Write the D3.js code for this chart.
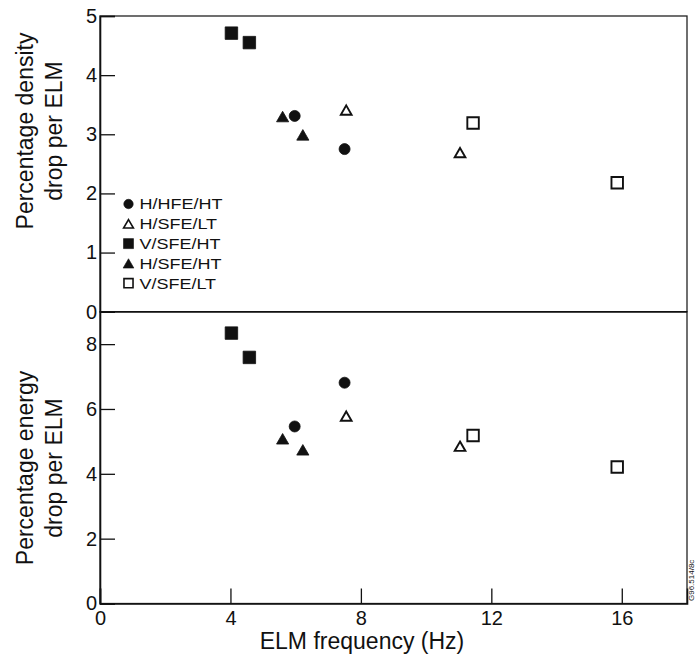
<!DOCTYPE html>
<html>
<head>
<meta charset="utf-8">
<script src="https://cdn.jsdelivr.net/npm/d3@7/dist/d3.min.js"></script>
<style>
  html, body { margin: 0; padding: 0; background: #fff; }
  svg { display: block; }
  text { font-family: "Liberation Sans", Arial, Helvetica, sans-serif; fill: #111; }
</style>
</head>
<body>
<svg id="chart" width="696" height="658"></svg>
<script>
// ---------------- DATA ----------------
const seriesNames = ["H/HFE/HT", "H/SFE/LT", "V/SFE/HT", "H/SFE/HT", "V/SFE/LT"];

// ELM frequency (Hz) per series
const freqHHFEHT = [5.97, 7.50];
const freqHSFELT = [7.55, 11.04];
const freqVSFEHT = [4.03, 4.58];
const freqHSFEHT = [5.60, 6.22];
const freqVSFELT = [11.44, 15.86];

// Percentage density drop per ELM
const densHHFEHT = [3.31, 2.75];
const densHSFELT = [3.41, 2.69];
const densVSFEHT = [4.71, 4.55];
const densHSFEHT = [3.30, 2.99];
const densVSFELT = [3.19, 2.18];

// Percentage energy drop per ELM
const enerHHFEHT = [5.46, 6.81];
const enerHSFELT = [5.78, 4.85];
const enerVSFEHT = [8.34, 7.59];
const enerHSFEHT = [5.08, 4.74];
const enerVSFELT = [5.18, 4.21];

const xTicks = [0, 4, 8, 12, 16];
const densityTicks = [0, 1, 2, 3, 4, 5];
const energyTicks = [0, 2, 4, 6, 8];

const xLabel = "ELM frequency (Hz)";
const densityTitle = ["Percentage density", "drop per ELM"];
const energyTitle = ["Percentage energy", "drop per ELM"];
const figureCode = "G96.514/8c";

// ---------------- BUILD ----------------
const freqs = [freqHHFEHT, freqHSFELT, freqVSFEHT, freqHSFEHT, freqVSFELT];
const dens = [densHHFEHT, densHSFELT, densVSFEHT, densHSFEHT, densVSFELT];
const eners = [enerHHFEHT, enerHSFELT, enerVSFEHT, enerHSFEHT, enerVSFELT];

// marker style per series (index aligned with seriesNames)
const markerStyle = [
  { type: d3.symbolCircle,   filled: true,  size: 95,  legSize: 70 },
  { type: d3.symbolTriangle, filled: false, size: 50,  legSize: 42 },
  { type: d3.symbolSquare,   filled: true,  size: 156, legSize: 100 },
  { type: d3.symbolTriangle, filled: true,  size: 64,  legSize: 50 },
  { type: d3.symbolSquare,   filled: false, size: 132, legSize: 82 }
];

const svg = d3.select("#chart");
const left = 100, right = 687;
const topY = 16, midY = 311.7, botY = 603.5;

const x = d3.scaleLinear().domain([0, 18]).range([left, right]);
const yD = d3.scaleLinear().domain([0, 5]).range([midY, topY]);
const yE = d3.scaleLinear().domain([0, 9]).range([botY, midY]);

// frames
function frame(y0, y1) {
  svg.append("rect")
    .attr("x", left).attr("y", y0)
    .attr("width", right - left).attr("height", y1 - y0)
    .attr("fill", "none").attr("stroke", "#222").attr("stroke-width", 1.3);
}
frame(topY, midY);
frame(midY, botY);

function styleAxis(g) {
  g.select(".domain").attr("stroke", "#111").attr("stroke-width", 1.6);
  g.selectAll(".tick line").attr("stroke", "#111").attr("stroke-width", 1.3);
  g.selectAll(".tick text").attr("font-size", 20)
    .attr("font-family", "Liberation Sans, Arial, sans-serif").attr("fill", "#111");
}

// y axes
svg.append("g").attr("transform", `translate(${left},0)`)
  .call(d3.axisLeft(yD).tickValues(densityTicks).tickFormat(d3.format("d"))
    .tickSize(-15).tickPadding(3))
  .call(styleAxis);

svg.append("g").attr("transform", `translate(${left},0)`)
  .call(d3.axisLeft(yE).tickValues(energyTicks).tickFormat(d3.format("d"))
    .tickSize(-15).tickPadding(3))
  .call(styleAxis);

// x axis
const xg = svg.append("g").attr("transform", `translate(0,${botY})`)
  .call(d3.axisBottom(x).tickValues(xTicks).tickFormat(d3.format("d"))
    .tickSize(-15).tickPadding(7))
  .call(styleAxis);
xg.select(".domain").attr("stroke-width", 1.6);

// shared boundary line
svg.append("line").attr("x1", left).attr("x2", right)
  .attr("y1", midY).attr("y2", midY)
  .attr("stroke", "#111").attr("stroke-width", 1.5);

// titles
function yTitle(lines, cy) {
  const t = svg.append("text")
    .attr("transform", `translate(0,${cy}) rotate(-90)`)
    .attr("text-anchor", "middle").attr("font-size", 23);
  t.append("tspan").attr("x", 0).attr("y", 33).text(lines[0]);
  t.append("tspan").attr("x", 0).attr("y", 62).text(lines[1]);
}
yTitle(densityTitle, 131);
yTitle(energyTitle, 468);

svg.append("text").attr("x", 362).attr("y", 649)
  .attr("text-anchor", "middle").attr("font-size", 23).text(xLabel);

svg.append("text")
  .attr("transform", `translate(694,601) rotate(-90)`)
  .attr("font-size", 8).attr("fill", "#333").text(figureCode);

// markers
function triOffset(st, size) {
  if (st.type !== d3.symbolTriangle) return 0;
  return Math.sqrt(size / (Math.sqrt(3) * 3)) / 2;
}
function drawMarks(ys, yScale) {
  seriesNames.forEach((name, i) => {
    const st = markerStyle[i];
    const pts = freqs[i].map((f, j) => ({ f, v: ys[i][j] }));
    const sym = d3.symbol().type(st.type).size(st.size);
    const off = triOffset(st, st.size);
    svg.append("g").selectAll("path").data(pts).join("path")
      .attr("d", sym)
      .attr("transform", d => `translate(${x(d.f)},${yScale(d.v) + off})`)
      .attr("fill", st.filled ? "#111" : "#fff")
      .attr("stroke", "#111")
      .attr("stroke-width", st.filled ? 0.8 : 1.9);
  });
}
drawMarks(dens, yD);
drawMarks(eners, yE);

// legend
const legY0 = 204, legStep = 19.8;
seriesNames.forEach((name, i) => {
  const st = markerStyle[i];
  const cy = legY0 + i * legStep;
  const off = triOffset(st, st.legSize);
  svg.append("path")
    .attr("d", d3.symbol().type(st.type).size(st.legSize))
    .attr("transform", `translate(128.5,${cy + off})`)
    .attr("fill", st.filled ? "#111" : "#fff")
    .attr("stroke", "#111")
    .attr("stroke-width", st.filled ? 0.6 : 1.6);
  svg.append("text")
    .attr("transform", `translate(139.5,${cy + 5.3}) scale(1.2,1)`)
    .attr("font-size", 15).text(name);
});
</script>
</body>
</html>
